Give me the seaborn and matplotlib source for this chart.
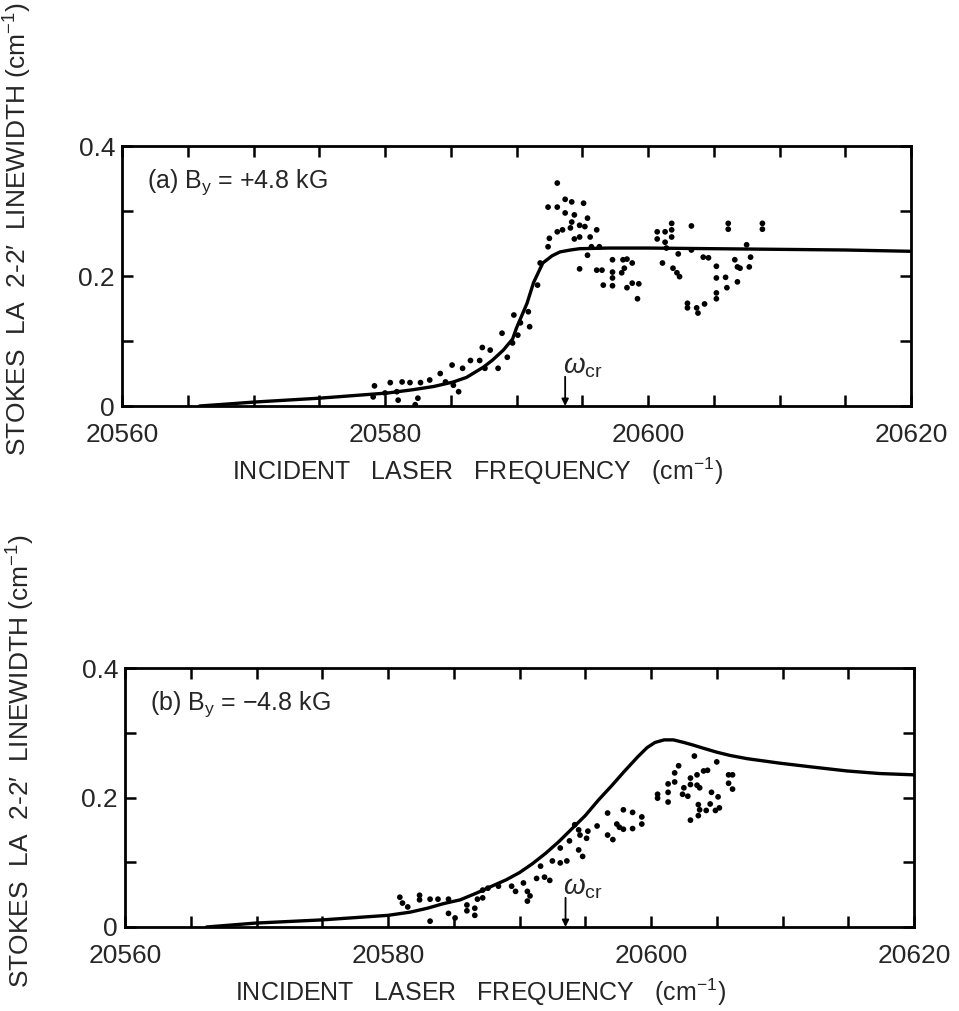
import matplotlib
matplotlib.use("Agg")
import matplotlib.pyplot as plt
import seaborn as sns
import pandas as pd
from matplotlib.ticker import FixedLocator, MultipleLocator
from matplotlib import font_manager

# ---------------- data ----------------
x_ticks = [20560, 20580, 20600, 20620]
x_tick_labels = ["20560", "20580", "20600", "20620"]
y_ticks = [0.0, 0.2, 0.4]
y_tick_labels = ["0", "0.2", "0.4"]

omega_cr_a = 20593.7
omega_cr_b = 20593.5

# panel (a) theory curve
a_curve_x = [20565.9, 20568, 20570, 20572.5, 20575, 20577.6, 20580.2, 20582.1, 20583.7, 20585.2,
             20586.2, 20587.5, 20588.2, 20589, 20589.7, 20590, 20590.4, 20590.8, 20591.3, 20592,
             20592.7, 20593.3, 20594.1, 20594.8, 20597, 20600, 20605, 20610, 20615, 20620]
a_curve_y = [0.0, 0.003, 0.006, 0.009, 0.012, 0.016, 0.020, 0.025, 0.030, 0.037,
             0.044, 0.060, 0.071, 0.086, 0.103, 0.120, 0.139, 0.158, 0.190, 0.220,
             0.231, 0.237, 0.240, 0.242, 0.243, 0.243, 0.242, 0.241, 0.240, 0.238]

# panel (a) measured points
a_pts_x = [20579.2, 20579.1, 20580.4, 20580.9, 20581.3, 20581.9, 20582.7, 20583.4, 20584.2, 20584.6,
           20585.2, 20585.6, 20582.5, 20582.3, 20581.0, 20580.0, 20585.1, 20585.9, 20586.5, 20587.2,
           20587.4, 20588.0, 20587.6, 20588.6, 20588.9, 20589.3, 20589.7, 20589.8, 20590.1, 20590.3,
           20590.9, 20591.0, 20591.6, 20591.8, 20592.4, 20592.5, 20592.4, 20593.1, 20593.1, 20593.1,
           20593.7, 20594.2, 20595.1, 20593.7, 20594.4, 20595.4, 20594.2, 20594.8, 20595.2, 20594.1,
           20593.5, 20596.1, 20594.4, 20594.8, 20595.6, 20595.7, 20596.3, 20595.4, 20594.8, 20596.1,
           20596.5, 20597.3, 20597.3, 20597.3, 20596.6, 20597.3, 20598.1, 20598.4, 20598.2, 20598.8,
           20598.0, 20598.4, 20598.8, 20599.3, 20599.2, 20600.7, 20600.7, 20601.3, 20601.3, 20601.4,
           20601.8, 20601.8, 20601.8, 20601.1, 20601.9, 20602.2, 20602.4, 20602.3, 20603.3, 20603.3,
           20603.0, 20603.0, 20603.7, 20603.8, 20604.3, 20604.2, 20604.6, 20605.2, 20605.2, 20605.9,
           20605.2, 20605.2, 20606.0, 20606.1, 20606.1, 20606.6, 20606.8, 20607.0, 20606.8, 20607.5,
           20607.8, 20607.7, 20608.7, 20608.7]
a_pts_y = [0.031, 0.014, 0.036, 0.022, 0.037, 0.036, 0.036, 0.040, 0.050, 0.037,
           0.032, 0.022, 0.012, 0.002, 0.009, 0.020, 0.063, 0.058, 0.070, 0.070,
           0.090, 0.086, 0.058, 0.058, 0.112, 0.075, 0.097, 0.140, 0.109, 0.128,
           0.145, 0.122, 0.186, 0.220, 0.245, 0.258, 0.306, 0.306, 0.343, 0.268,
           0.318, 0.314, 0.312, 0.297, 0.294, 0.289, 0.283, 0.278, 0.276, 0.274,
           0.271, 0.271, 0.257, 0.260, 0.260, 0.245, 0.245, 0.232, 0.211, 0.209,
           0.209, 0.225, 0.206, 0.197, 0.186, 0.185, 0.225, 0.226, 0.212, 0.220,
           0.205, 0.182, 0.189, 0.188, 0.165, 0.268, 0.257, 0.268, 0.252, 0.243,
           0.281, 0.271, 0.260, 0.220, 0.212, 0.205, 0.199, 0.234, 0.277, 0.240,
           0.158, 0.151, 0.151, 0.143, 0.157, 0.229, 0.228, 0.215, 0.197, 0.198,
           0.174, 0.165, 0.182, 0.281, 0.272, 0.225, 0.214, 0.212, 0.191, 0.248,
           0.229, 0.214, 0.281, 0.272]

# panel (b) theory curve
b_curve_x = [20566.2, 20569.9, 20575.0, 20580.0, 20581.7, 20583.0, 20584.2, 20585.5, 20586.8, 20588.0,
             20589.0, 20590.0, 20591.0, 20592.0, 20593.0, 20594.0, 20595.0, 20596.0, 20597.0, 20598.0,
             20599.0, 20599.7, 20600.3, 20601.0, 20601.7, 20602.5, 20603.2, 20604.0, 20605.0, 20606.0,
             20607.3, 20609.8, 20612.3, 20614.9, 20617.4, 20620.0]
b_curve_y = [0.0, 0.006, 0.011, 0.018, 0.023, 0.029, 0.036, 0.042, 0.053, 0.064,
             0.073, 0.084, 0.098, 0.114, 0.132, 0.152, 0.172, 0.196, 0.218, 0.241,
             0.263, 0.277, 0.285, 0.289, 0.289, 0.285, 0.281, 0.276, 0.270, 0.265,
             0.260, 0.253, 0.247, 0.241, 0.237, 0.235]

# panel (b) measured points
b_pts_x = [20580.9, 20581.1, 20581.5, 20582.4, 20582.4, 20583.2, 20583.8, 20584.6, 20583.2, 20584.6,
           20585.1, 20586.0, 20586.0, 20586.6, 20586.6, 20586.8,
           20587.2, 20587.2, 20587.6, 20588.4, 20589.4, 20589.7, 20590.3, 20590.6, 20590.8, 20590.6,
           20591.3, 20591.6, 20591.9, 20592.3, 20592.5, 20593.1, 20593.1, 20593.6, 20593.8, 20594.2,
           20594.5, 20594.6, 20594.5, 20594.8, 20595.1, 20595.2, 20595.9, 20596.7, 20596.7, 20597.1,
           20597.4, 20597.6, 20597.9, 20597.9, 20598.6, 20598.6, 20599.3, 20599.3, 20600.5, 20600.5,
           20601.3, 20601.3, 20601.3, 20601.8, 20601.8, 20602.1, 20602.4, 20602.5, 20602.8, 20603.0,
           20603.0, 20603.5, 20603.3, 20603.5, 20603.7, 20604.0, 20604.3, 20603.0, 20603.6, 20603.6,
           20603.7, 20604.2, 20604.5, 20604.6, 20604.9, 20605.1, 20605.2, 20605.0, 20605.9, 20606.2,
           20605.9, 20606.2]
b_pts_y = [0.046, 0.037, 0.031, 0.049, 0.042, 0.043, 0.043, 0.043, 0.009, 0.021,
           0.014, 0.034, 0.025, 0.029, 0.018, 0.043,
           0.057, 0.045, 0.060, 0.063, 0.063, 0.055, 0.068, 0.055, 0.048, 0.040,
           0.075, 0.094, 0.077, 0.072, 0.102, 0.122, 0.099, 0.102, 0.133, 0.158,
           0.150, 0.142, 0.119, 0.109, 0.137, 0.148, 0.156, 0.176, 0.142, 0.135,
           0.159, 0.154, 0.181, 0.151, 0.177, 0.152, 0.170, 0.159, 0.205, 0.199,
           0.208, 0.193, 0.221, 0.224, 0.238, 0.249, 0.205, 0.215, 0.202, 0.230,
           0.220, 0.235, 0.264, 0.219, 0.215, 0.241, 0.242, 0.165, 0.172, 0.189,
           0.181, 0.180, 0.190, 0.208, 0.180, 0.201, 0.184, 0.255, 0.235, 0.235,
           0.222, 0.213]

panel_texts = ["(a) B$_{\\rm y}$ = +4.8 kG", "(b) B$_{\\rm y}$ = \u22124.8 kG"]
x_label = "INCIDENT   LASER   FREQUENCY   (cm$^{-1}$)"
y_label = "STOKES  LA  2-2\u2032  LINEWIDTH (cm$^{-1}$)"

# ---------------- style ----------------
sns.set_style("ticks")
main_font = "Liberation Sans"
narrow_font = main_font
try:
    font_manager.findfont(font_manager.FontProperties(family="Liberation Sans Narrow"),
                          fallback_to_default=False)
    narrow_font = "Liberation Sans Narrow"
except Exception:
    narrow_font = main_font
plt.rcParams["font.family"] = [main_font, "DejaVu Sans"]
plt.rcParams["mathtext.fontset"] = "custom"
plt.rcParams["mathtext.rm"] = main_font
plt.rcParams["mathtext.it"] = main_font + ":italic"

fig = plt.figure(figsize=(9.59, 10.11), dpi=100)
W, H = 959, 1011
ax_a = fig.add_axes([122 / W, 1 - 406 / H, 789 / W, 260 / H])
ax_b = fig.add_axes([125 / W, 1 - 927 / H, 789 / W, 259 / H])

df_a_curve = pd.DataFrame({"x": a_curve_x, "y": a_curve_y})
df_a_pts = pd.DataFrame({"x": a_pts_x, "y": a_pts_y})
df_b_curve = pd.DataFrame({"x": b_curve_x, "y": b_curve_y})
df_b_pts = pd.DataFrame({"x": b_pts_x, "y": b_pts_y})

panels = [
    (ax_a, df_a_curve, df_a_pts, panel_texts[0], omega_cr_a, 0.68),
    (ax_b, df_b_curve, df_b_pts, panel_texts[1], omega_cr_b, 0.64),
]

for ax, dfc, dfp, ptxt, wcr, ylab_y in panels:
    sns.lineplot(data=dfc, x="x", y="y", ax=ax, color="black", lw=2.4, sort=False)
    sns.scatterplot(data=dfp, x="x", y="y", ax=ax, color="black", s=17, edgecolor="none", marker="o")
    ax.set_xlim(20560, 20620)
    ax.set_ylim(0, 0.4)
    ax.xaxis.set_major_locator(FixedLocator(x_ticks))
    ax.set_xticklabels(x_tick_labels)
    ax.xaxis.set_minor_locator(MultipleLocator(5))
    ax.yaxis.set_major_locator(FixedLocator(y_ticks))
    ax.set_yticklabels(y_tick_labels)
    ax.yaxis.set_minor_locator(FixedLocator([0.1, 0.3]))
    ax.tick_params(which="both", direction="in", top=True, right=True,
                   length=8, width=1.8, color="black")
    ax.tick_params(axis="x", which="both", labelsize=19, pad=12)
    ax.tick_params(axis="y", which="both", labelsize=19, pad=5)
    for sp in ax.spines.values():
        sp.set_linewidth(2.0)
        sp.set_color("black")
    ax.set_xlabel(x_label, fontsize=18, labelpad=6)
    ax.xaxis.set_label_coords(0.45, -0.19)
    ax.set_ylabel(y_label, fontsize=19, family=[narrow_font, "DejaVu Sans"])
    ax.yaxis.set_label_coords(-0.112, ylab_y)
    ax.text(0.032, 0.86, ptxt, transform=ax.transAxes, fontsize=18, ha="left", va="center")
    ax.annotate("", xy=(wcr, 0.0), xytext=(wcr, 0.045),
                arrowprops=dict(arrowstyle="-|>", lw=1.3, color="black",
                                mutation_scale=10, shrinkA=0, shrinkB=0))
    ax.text(wcr - 0.2, 0.062, r"$\omega_{\rm cr}$", fontsize=20, ha="left", va="center",
            family=["DejaVu Sans"])

fig.savefig("out.png", dpi=100)
